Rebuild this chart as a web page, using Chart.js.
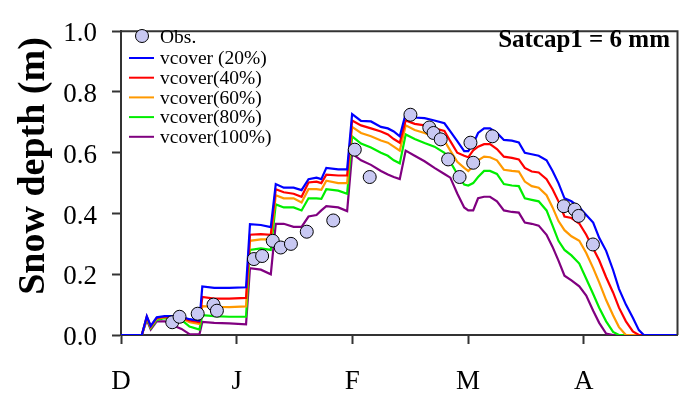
<!DOCTYPE html>
<html>
<head>
<meta charset="utf-8">
<title>Snow depth</title>
<script src="https://cdn.jsdelivr.net/npm/chart.js@4.4.1/dist/chart.umd.min.js"></script>
<style>
  html, body { margin: 0; padding: 0; background: #fff; }
  canvas { display: block; }
</style>
</head>
<body>
<canvas id="chart" width="685" height="405"></canvas>
<script>
// month labels (x axis is in months since 1 Dec)
const months = ["D", "J", "F", "M", "A"];

// observed snow depth (m)
const obsX = [0.443, 0.506, 0.663, 0.800, 0.829, 1.149, 1.220, 1.312, 1.381, 1.469, 1.606, 1.835,
  2.021, 2.150, 2.502, 2.665, 2.702, 2.764, 2.828, 2.927, 3.021, 3.045, 3.210, 3.828, 3.922, 3.956, 4.080];
const obsY = [0.042, 0.06, 0.07, 0.10, 0.08, 0.25, 0.26, 0.31, 0.288, 0.30, 0.34, 0.377,
  0.61, 0.52, 0.725, 0.683, 0.665, 0.644, 0.578, 0.52, 0.633, 0.567, 0.654, 0.424, 0.413, 0.392, 0.298];

// simulated snow depth, one value per date in modelX
const modelX = [0, 0.180, 0.223, 0.257, 0.309, 0.377, 0.463, 0.523, 0.592, 0.678, 0.703, 0.806, 0.935,
  1.081, 1.115, 1.209, 1.295, 1.338, 1.407, 1.492, 1.561, 1.621, 1.690, 1.732, 1.775, 1.878, 1.955,
  1.998, 2.075, 2.161, 2.247, 2.307, 2.358, 2.410, 2.461, 2.539, 2.624, 2.710, 2.796, 2.847, 2.907,
  2.967, 3.002, 3.045, 3.087, 3.139, 3.190, 3.250, 3.310, 3.379, 3.439, 3.491, 3.551, 3.611, 3.679,
  3.731, 3.782, 3.834, 3.894, 3.962, 4.022, 4.082, 4.134, 4.194, 4.254, 4.305, 4.365, 4.425, 4.477,
  4.520, 4.811];

const vc20 = [0, 0, .062, .03, .058, .062, .062, .06, .052, .047, .16, .155, .155, .157, .365, .362, .355,
  .497, .485, .485, .477, .513, .518, .513, .55, .545, .545, .727, .705, .703, .685, .68, .67, .654,
  .728, .716, .714, .706, .697, .67, .638, .605, .605, .63, .665, .68, .68, .665, .642, .64, .634,
  .6, .595, .59, .575, .54, .5, .45, .44, .42, .395, .37, .32, .277, .214, .152, .1, .057, .016, 0, 0];
const vc40 = [0, 0, .06, .028, .056, .06, .06, .058, .048, .042, .125, .12, .12, .122, .33, .332, .33,
  .48, .47, .465, .455, .502, .505, .5, .528, .525, .525, .706, .69, .68, .67, .66, .645, .633,
  .706, .695, .69, .68, .672, .638, .6, .59, .585, .608, .62, .628, .628, .612, .587, .583, .578,
  .55, .538, .535, .513, .48, .44, .39, .385, .367, .33, .285, .246, .19, .14, .09, .045, .012, 0, 0, 0];
const vc60 = [0, 0, .058, .026, .054, .058, .058, .055, .042, .036, .095, .093, .092, .094, .31, .315, .315,
  .46, .45, .45, .436, .48, .48, .478, .508, .5, .5, .685, .665, .654, .64, .633, .62, .607,
  .69, .675, .665, .652, .64, .607, .57, .55, .54, .555, .575, .587, .585, .575, .544, .54, .538,
  .505, .49, .485, .46, .42, .375, .345, .325, .31, .27, .22, .173, .115, .065, .026, 0, 0, 0, 0, 0];
const vc80 = [0, 0, .055, .022, .05, .055, .055, .05, .028, .018, .065, .062, .06, .06, .28, .285, .28,
  .43, .42, .42, .41, .45, .45, .448, .48, .475, .465, .654, .63, .617, .6, .59, .575, .565,
  .66, .645, .632, .62, .6, .57, .53, .495, .492, .5, .52, .54, .54, .53, .497, .492, .49,
  .45, .445, .44, .41, .36, .31, .28, .262, .235, .185, .135, .09, .045, .01, 0, 0, 0, 0, 0, 0];
const vc100 = [0, 0, .05, .018, .045, .045, .03, .02, .003, .002, .043, .04, .038, .035, .22, .215, .2,
  .366, .366, .356, .356, .39, .395, .41, .424, .42, .408, .597, .575, .56, .54, .528, .52, .513,
  .607, .59, .572, .55, .53, .518, .466, .42, .41, .41, .45, .455, .455, .44, .41, .405, .403,
  .37, .366, .36, .33, .29, .245, .195, .18, .16, .13, .08, .04, .005, 0, 0, 0, 0, 0, 0, 0];

const seriesLabels = ["vcover (20%)", "vcover(40%)", "vcover(60%)", "vcover(80%)", "vcover(100%)"];
const seriesValues = [vc20, vc40, vc60, vc80, vc100];
const seriesColors = ["#0000ff", "#ff0000", "#ff9900", "#00ee00", "#800080"];

const FONT = "'Liberation Serif', 'Times New Roman', serif";
const AXIS = "#333";

const toPoints = (xs, ys) => xs.map((x, i) => ({ x: x, y: ys[i] }));

const datasets = [{
  label: "Obs.",
  data: toPoints(obsX, obsY),
  showLine: false,
  pointRadius: 6.5,
  pointBackgroundColor: "#c8c8f2",
  pointBorderColor: "#000",
  pointBorderWidth: 1
}];
seriesValues.forEach((vals, i) => {
  datasets.push({
    label: seriesLabels[i],
    data: toPoints(modelX, vals),
    borderColor: seriesColors[i],
    borderWidth: 2.2,
    pointRadius: 0,
    tension: 0,
    fill: false
  });
});

// frame, legend, y title and annotation
const extras = {
  id: "extras",
  afterDraw(chart) {
    const ctx = chart.ctx;
    const a = chart.chartArea;
    ctx.save();
    ctx.strokeStyle = AXIS;
    ctx.lineWidth = 2;
    ctx.beginPath();
    ctx.moveTo(a.left, a.top);
    ctx.lineTo(a.right, a.top);
    ctx.lineTo(a.right, a.bottom);
    ctx.stroke();

    // legend
    ctx.font = "19.5px " + FONT;
    ctx.textAlign = "left";
    ctx.textBaseline = "middle";
    ctx.beginPath();
    ctx.arc(142, 36, 6.5, 0, Math.PI * 2);
    ctx.fillStyle = "#c8c8f2";
    ctx.fill();
    ctx.lineWidth = 1;
    ctx.strokeStyle = "#000";
    ctx.stroke();
    ctx.fillStyle = "#000";
    ctx.fillText("Obs.", 160, 38);
    seriesLabels.forEach((lab, i) => {
      const y = 58 + i * 19.7;
      ctx.strokeStyle = seriesColors[i];
      ctx.lineWidth = 2;
      ctx.beginPath();
      ctx.moveTo(129, y);
      ctx.lineTo(154, y);
      ctx.stroke();
      ctx.fillText(lab, 160, y + 1);
    });

    // annotation
    ctx.font = "bold 25px " + FONT;
    ctx.textAlign = "right";
    ctx.textBaseline = "alphabetic";
    ctx.fillText("Satcap1 = 6 mm", 670, 47);

    // y axis title
    ctx.translate(44, 166);
    ctx.rotate(-Math.PI / 2);
    ctx.font = "bold 38px " + FONT;
    ctx.textAlign = "center";
    ctx.fillText("Snow depth (m)", 0, 0);
    ctx.restore();
  }
};

new Chart(document.getElementById("chart"), {
  type: "line",
  data: { datasets: datasets },
  options: {
    responsive: false,
    animation: false,
    layout: { padding: { top: 16, right: 3, left: 0, bottom: 0 } },
    plugins: {
      legend: { display: false },
      tooltip: { enabled: false }
    },
    scales: {
      x: {
        type: "linear",
        min: 0,
        max: 4.811,
        afterBuildTicks: (s) => { s.ticks = months.map((m, i) => ({ value: i })); },
        afterFit: (s) => { s.height = 70; },
        ticks: {
          callback: (v) => months[v],
          font: { family: FONT, size: 27 },
          color: "#000",
          padding: 22,
          maxRotation: 0
        },
        grid: { drawOnChartArea: false, tickLength: 9, color: AXIS, tickWidth: 2 },
        border: { display: true, color: AXIS, width: 2 }
      },
      y: {
        min: 0,
        max: 1,
        afterFit: (s) => { s.width = 121; },
        ticks: {
          stepSize: 0.2,
          callback: (v) => v.toFixed(1),
          font: { family: FONT, size: 27 },
          color: "#000",
          padding: 15,
          labelOffset: 3
        },
        grid: { drawOnChartArea: false, tickLength: 9, color: AXIS, tickWidth: 2 },
        border: { display: true, color: AXIS, width: 2 }
      }
    }
  },
  plugins: [extras]
});
</script>
</body>
</html>
